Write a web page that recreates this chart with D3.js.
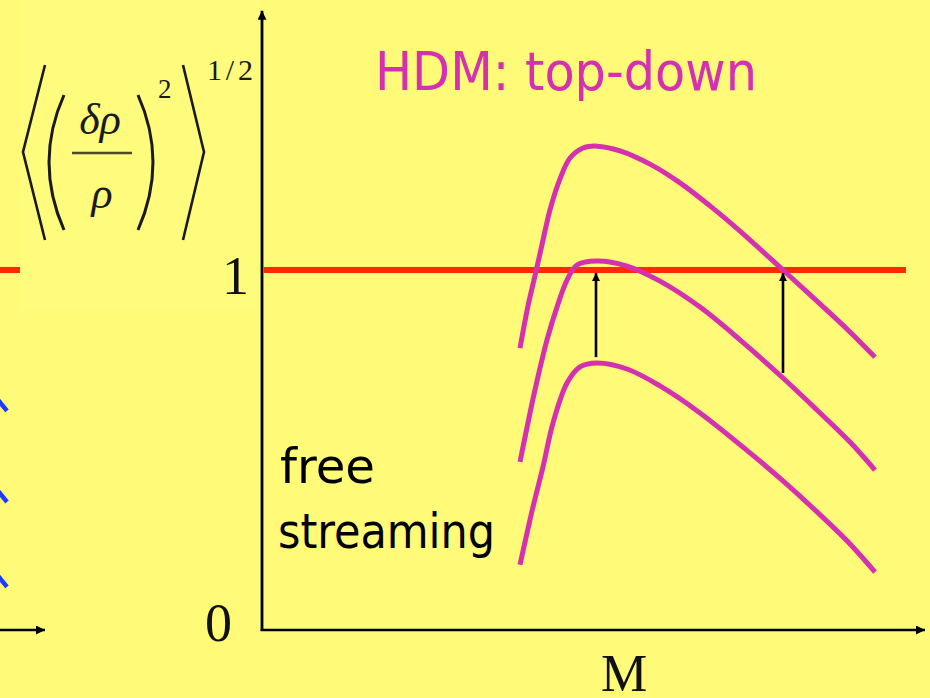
<!DOCTYPE html>
<html>
<head>
<meta charset="utf-8">
<script src="https://cdn.jsdelivr.net/npm/d3@7/dist/d3.min.js"></script>
<style>
  html, body { margin: 0; padding: 0; background: #FFFA78; }
  svg { display: block; }
</style>
</head>
<body>
<svg id="chart" width="930" height="698"></svg>
<script>
// Mass scale M (arbitrary units) and rms density contrast for three epochs
const massTop = [25.8, 26.6, 27.5, 28.1, 28.8, 29.8, 30.8, 32.1, 33.5, 35.8, 38.8, 41.8, 44.8, 47.8, 52.1, 55.8, 58.8, 61.3];
const deltaTop = [0.783, 0.9, 1.008, 1.083, 1.167, 1.253, 1.311, 1.339, 1.344, 1.331, 1.294, 1.242, 1.178, 1.108, 1.0, 0.906, 0.828, 0.758];

const massMid = [25.8, 27.3, 28.5, 29.5, 30.5, 31.5, 33.5, 36.5, 39.8, 43.8, 47.8, 52.1, 55.5, 58.8, 61.3];
const deltaMid = [0.467, 0.667, 0.806, 0.897, 0.972, 1.014, 1.025, 1.011, 0.969, 0.897, 0.806, 0.7, 0.611, 0.522, 0.444];

const massLow = [25.8, 27.1, 28.1, 29.1, 30.5, 31.8, 33.5, 36.5, 39.8, 43.8, 48.8, 52.1, 55.5, 58.8, 61.3];
const deltaLow = [0.181, 0.342, 0.453, 0.575, 0.686, 0.731, 0.742, 0.725, 0.678, 0.603, 0.492, 0.414, 0.328, 0.239, 0.161];

// Non-linear threshold and the growth arrows (mass, start level)
const threshold = 1;
const thresholdMassEnd = 64.4;
const arrowMass = [33.4, 52.1];
const arrowFrom = [0.758, 0.714];

// Axis extents and labels
const massMax = 66.3;
const deltaMax = 1.72;
const yTickValues = [0, 1];
const yTickLabels = ["0", "1"];
const xAxisLabel = "M";
const title = "HDM: top-down";
const noteLines = ["free", "streaming"];

// Edge of the neighbouring panel
const prevChevrons = [0.617, 0.364, 0.128];

const svg = d3.select("#chart");
const x = d3.scaleLinear().domain([0, massMax]).range([262, 925]);
const y = d3.scaleLinear().domain([0, 1]).range([630, 270]);

const defs = svg.append("defs");
defs.append("marker")
  .attr("id", "head")
  .attr("viewBox", "0 0 10 10")
  .attr("refX", 10).attr("refY", 5)
  .attr("markerUnits", "userSpaceOnUse")
  .attr("markerWidth", 10).attr("markerHeight", 9)
  .attr("orient", "auto")
  .append("path").attr("d", "M0,0 L10,5 L0,10 z").attr("fill", "#000");
defs.append("marker")
  .attr("id", "headSmall")
  .attr("viewBox", "0 0 10 10")
  .attr("refX", 10).attr("refY", 5)
  .attr("markerUnits", "userSpaceOnUse")
  .attr("markerWidth", 9).attr("markerHeight", 8)
  .attr("orient", "auto")
  .append("path").attr("d", "M0,0 L10,5 L0,10 z").attr("fill", "#000");

// Formula image box
svg.append("rect").attr("x", 20).attr("y", 0).attr("width", 240).attr("height", 310)
  .attr("fill", "#FFFB7D");

// Neighbouring panel remnants
svg.append("line")
  .attr("x1", 0).attr("x2", 20)
  .attr("y1", y(threshold)).attr("y2", y(threshold))
  .attr("stroke", "#FF2A00").attr("stroke-width", 6);
svg.selectAll(".chev").data(prevChevrons).enter().append("line")
  .attr("class", "chev")
  .attr("x1", -2).attr("x2", 7)
  .attr("y1", d => y(d) - 8).attr("y2", d => y(d) + 3)
  .attr("stroke", "#1C3CFF").attr("stroke-width", 4.5);
svg.append("line")
  .attr("x1", 0).attr("x2", 45)
  .attr("y1", y(0)).attr("y2", y(0))
  .attr("stroke", "#000").attr("stroke-width", 2.5)
  .attr("marker-end", "url(#head)");

// Axes
svg.append("line")
  .attr("x1", x(0)).attr("x2", x(0))
  .attr("y1", y(0) + 1).attr("y2", y(deltaMax))
  .attr("stroke", "#000").attr("stroke-width", 2.8)
  .attr("marker-end", "url(#head)");
svg.append("line")
  .attr("x1", x(0) - 1.4).attr("x2", x(massMax))
  .attr("y1", y(0)).attr("y2", y(0))
  .attr("stroke", "#000").attr("stroke-width", 2.6)
  .attr("marker-end", "url(#head)");

// Threshold line
svg.append("line")
  .attr("x1", x(0) + 1.5).attr("x2", x(thresholdMassEnd))
  .attr("y1", y(threshold)).attr("y2", y(threshold))
  .attr("stroke", "#FF2A00").attr("stroke-width", 6);

// Spectra
const line = d3.line()
  .x(d => x(d[0])).y(d => y(d[1]))
  .curve(d3.curveCatmullRom.alpha(0.5));
const series = [
  d3.zip(massTop, deltaTop),
  d3.zip(massMid, deltaMid),
  d3.zip(massLow, deltaLow)
];
svg.selectAll(".spec").data(series).enter().append("path")
  .attr("class", "spec")
  .attr("d", line)
  .attr("fill", "none")
  .attr("stroke", "#D530B0")
  .attr("stroke-width", 5);

// Growth arrows
svg.selectAll(".grow").data(d3.zip(arrowMass, arrowFrom)).enter().append("line")
  .attr("class", "grow")
  .attr("x1", d => x(d[0])).attr("x2", d => x(d[0]))
  .attr("y1", d => y(d[1])).attr("y2", y(threshold) + 3)
  .attr("stroke", "#000").attr("stroke-width", 2.6)
  .attr("marker-end", "url(#headSmall)");

// Axis labels
const tickRight = [232, 249];
const tickDy = [11, 24];
svg.selectAll(".ytick").data(yTickValues).enter().append("text")
  .attr("class", "ytick")
  .attr("x", (d, i) => tickRight[i])
  .attr("y", (d, i) => y(d) + tickDy[i])
  .attr("text-anchor", "end")
  .attr("font-family", "'Liberation Serif', 'Times New Roman', serif")
  .attr("font-size", 54)
  .attr("fill", "#111")
  .text((d, i) => yTickLabels[i]);
svg.append("text")
  .attr("x", 624).attr("y", 691)
  .attr("text-anchor", "middle")
  .attr("font-family", "'Liberation Serif', 'Times New Roman', serif")
  .attr("font-size", 52)
  .attr("fill", "#111")
  .text(xAxisLabel);

// Title and note
svg.append("text")
  .attr("x", 375).attr("y", 90)
  .attr("font-family", "'Comic Sans MS', 'DejaVu Sans', sans-serif")
  .attr("font-size", 54)
  .attr("textLength", 382).attr("lengthAdjust", "spacingAndGlyphs")
  .attr("fill", "#D530B0")
  .text(title);
const noteX = [280, 278], noteY = [483, 548], noteW = [95, 217];
svg.selectAll(".note").data(noteLines).enter().append("text")
  .attr("class", "note")
  .attr("x", (d, i) => noteX[i]).attr("y", (d, i) => noteY[i])
  .attr("font-family", "'Comic Sans MS', 'DejaVu Sans', sans-serif")
  .attr("font-size", 48)
  .attr("textLength", (d, i) => noteW[i]).attr("lengthAdjust", "spacingAndGlyphs")
  .attr("fill", "#000")
  .text(d => d);

// y-axis quantity: <(δρ/ρ)^2>^(1/2)
const f = svg.append("g").attr("stroke", "#1a1a1a").attr("fill", "none").attr("stroke-width", 2.6);
f.append("path").attr("d", "M45,65 L23,152 L45,240");
f.append("path").attr("d", "M183,65 L204,152 L183,240");
f.append("path").attr("d", "M64,95 Q34,162 64,230").attr("stroke-width", 3);
f.append("path").attr("d", "M138,95 Q168,162 138,230").attr("stroke-width", 3);
f.append("line").attr("x1", 72).attr("x2", 132).attr("y1", 153).attr("y2", 153)
  .attr("stroke-width", 2.6).attr("stroke", "#4a4a28");
const ft = svg.append("g")
  .attr("font-family", "'Liberation Serif', 'Times New Roman', serif")
  .attr("fill", "#1a1a1a");
ft.append("text").attr("x", 100).attr("y", 134).attr("text-anchor", "middle")
  .attr("font-size", 44).attr("font-style", "italic").text("δρ");
ft.append("text").attr("x", 102).attr("y", 208).attr("text-anchor", "middle")
  .attr("font-size", 44).attr("font-style", "italic").text("ρ");
ft.append("text").attr("x", 158).attr("y", 98)
  .attr("font-size", 27).text("2");
ft.append("text").attr("x", 207).attr("y", 80)
  .attr("font-size", 30).attr("textLength", 46).attr("lengthAdjust", "spacing").text("1/2");
</script>
</body>
</html>
